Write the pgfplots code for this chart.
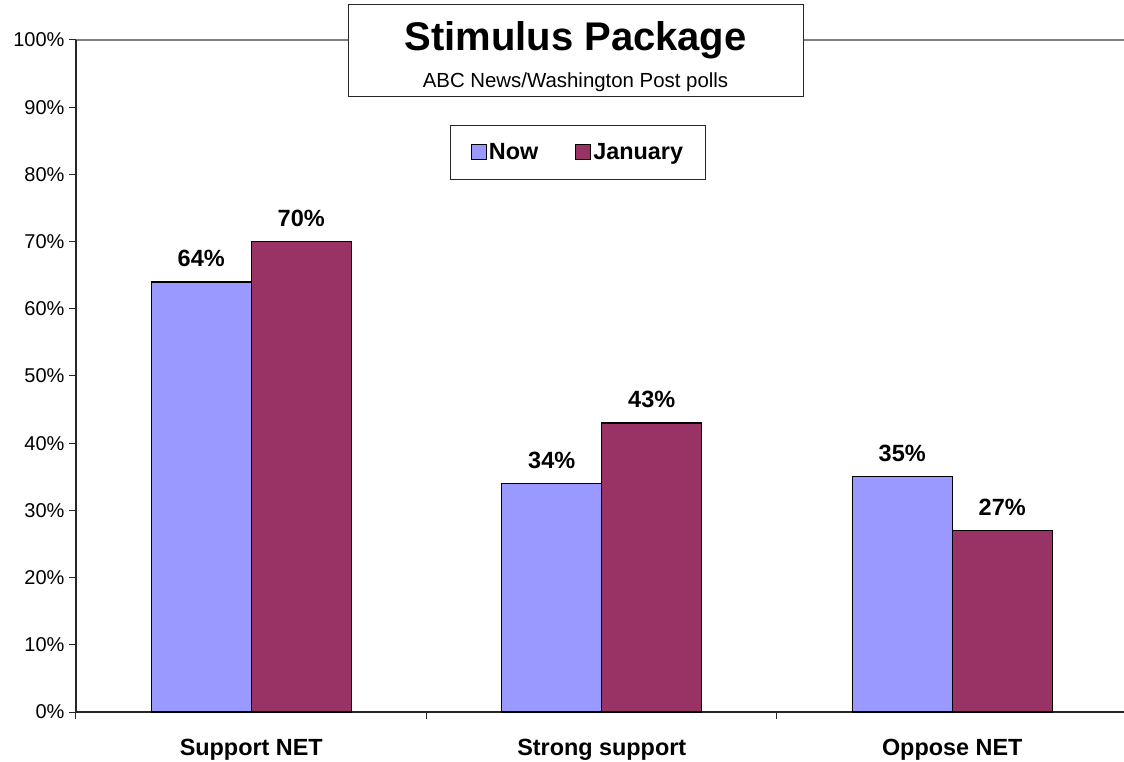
\documentclass[border=0pt]{standalone}
\usepackage{pgfplots}
\pgfplotsset{compat=1.18}
\usepackage{fontspec}
\setmainfont{Liberation Sans}
\definecolor{nowc}{HTML}{9999FF}
\definecolor{janc}{HTML}{993366}
\begin{document}
\begin{tikzpicture}[x=1pt,y=1pt]
\path[use as bounding box] (-76,-49) rectangle (1048,712);
\draw[gray, line width=1.5pt] (0,672) -- (1048,672);
\begin{axis}[
  at={(0,0)}, anchor=south west,
  scale only axis, width=1048pt, height=672pt,
  xmin=-0.5, xmax=2.49, ymin=0, ymax=100,
  axis lines*=left,
  axis line style={-, line width=1.2pt, black!85},
  ybar=0pt, bar width=100pt,
  clip=false,
  xtick={-0.5,0.5,1.5}, xticklabels={},
  extra x ticks={0,1,2},
  extra x tick labels={Support NET, Strong support, Oppose NET},
  extra x tick style={major tick length=0pt, tick label style={font=\bfseries\fontsize{23.4}{26}\selectfont, yshift=-24pt}},
  ytick={0,10,...,100},
  yticklabel={\pgfmathprintnumber{\tick}\%},
  tick align=outside,
  major tick length=7pt,
  tick style={black!85, line width=1pt},
  y tick label style={font=\fontsize{20}{23}\selectfont, xshift=-1pt},
  /pgf/number format/assume math mode=true,
  nodes near coords={\pgfmathprintnumber{\pgfplotspointmeta}\%},
  every node near coord/.append style={font=\bfseries\fontsize{23.5}{26}\selectfont, black, yshift=11pt},
  legend columns=2,
  legend style={at={(0.479,0.8326)}, anchor=center, draw=black!85, line width=1pt,
    font=\bfseries\fontsize{23.4}{26}\selectfont, inner xsep=20pt, inner ysep=16pt,
    /tikz/every even column/.append style={column sep=35pt}},
  legend image code/.code={\draw[#1, draw=black, line width=1pt] (0pt,-7.5pt) rectangle (15pt,7.5pt);},
]
\addplot[fill=nowc, draw=black, line width=1.2pt] coordinates {(0,64) (1,34) (2,35)};
\addplot[fill=janc, draw=black, line width=1.2pt] coordinates {(0,70) (1,43) (2,27)};
\legend{Now, January}
\end{axis}
\node[draw=black!85, line width=1pt, fill=white, minimum width=455pt, minimum height=92pt] at (499.5,661) {};
\node at (499.5,672) {\bfseries\fontsize{40}{44}\selectfont Stimulus Package};
\node at (499.5,630) {\fontsize{20.4}{23}\selectfont ABC News/Washington Post polls};
\end{tikzpicture}
\end{document}
